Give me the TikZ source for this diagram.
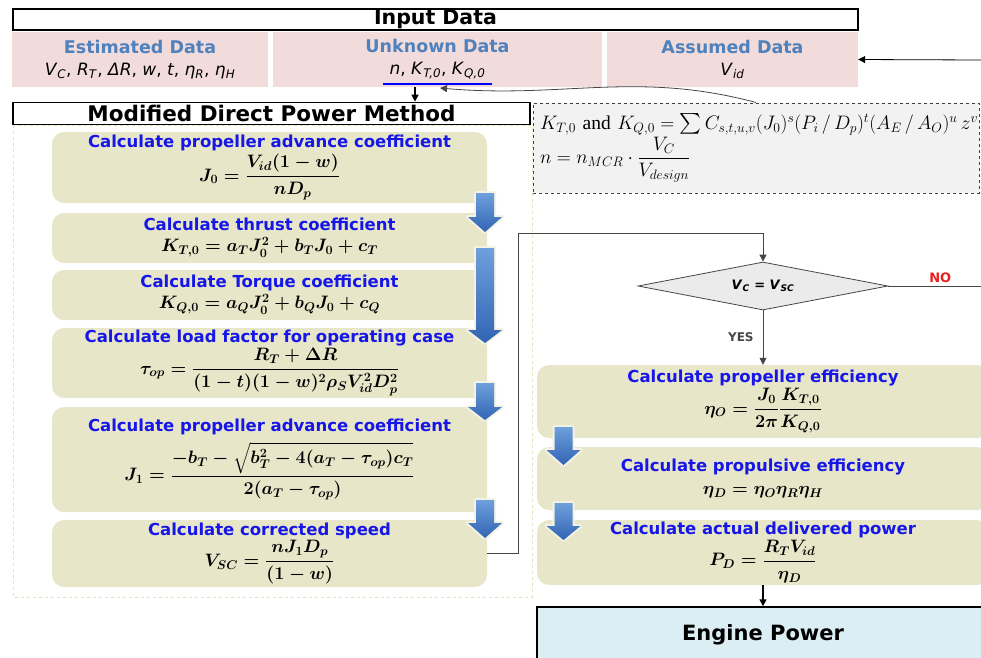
\RequirePackage{fix-cm}
\documentclass[tikz,border=0pt]{standalone}
\usepackage{amsmath}
\usepackage{fontspec}
\setmainfont{DejaVu Sans}
\newfontfamily\timesrm{Liberation Serif}
\usetikzlibrary{arrows.meta,shapes.geometric}
\definecolor{rose}{RGB}{242,220,219}
\definecolor{steel}{RGB}{79,129,189}
\definecolor{khaki}{RGB}{232,230,201}
\definecolor{calcblue}{RGB}{22,22,232}
\definecolor{arrhi}{RGB}{110,160,220}
\definecolor{arrlo}{RGB}{50,100,180}
\definecolor{lime}{RGB}{222,230,185}
\definecolor{wire}{RGB}{70,70,70}
\definecolor{sky}{RGB}{219,238,244}
\definecolor{nored}{RGB}{232,32,32}
\newcommand\ttl[1]{{\color{calcblue}\bfseries\fontsize{16.5}{19}\selectfont #1}}
\newcommand\celltitle[1]{{\color{steel}\bfseries\fontsize{17.5}{20}\selectfont #1}}
\newcommand\vv[2]{\textit{#1}\textsubscript{\textit{#2}}}
\tikzset{
  >={Triangle[length=7pt,width=7pt]},
  hdr/.style={draw=black,line width=1.8pt,fill=white,inner sep=0pt,
    font=\bfseries\fontsize{#1}{#1}\selectfont},
  cell/.style={fill=rose,inner sep=0pt,align=center,minimum height=55pt,
    font=\fontsize{17}{22}\selectfont},
  calc/.style={fill=khaki,rounded corners=12pt,inner sep=0pt,align=center,
    minimum width=435pt,font=\fontsize{18}{21}\selectfont\boldmath},
  wireline/.style={draw=wire,line width=0.8pt},
  % block arrow: #1 = head base, #2 = tip
  pics/dnarrow/.style 2 args={code={
    \path[preaction={draw=white!50!khaki,line width=4pt,line join=round},
      top color=arrhi,bottom color=arrlo]
      (-9,0) -- (9,0) -- (9,#1) -- (17,#1) -- (0,#2) -- (-17,#1) -- (-9,#1) -- cycle;
  }},
}
\begin{document}
\begin{tikzpicture}[x=1pt,y=-1pt]
  \useasboundingbox (0,0) rectangle (981,657);
  \clip (0,0) rectangle (981,657);
  % input data
  \node[hdr=20.5,minimum width=845pt,minimum height=21pt] (inp) at (435.5,19.5) {Input Data};
  \node[cell,minimum width=256pt] (est) at (140,59.5) {\celltitle{Estimated Data}\\ \vv{V}{C}, \vv{R}{T}, \textit{ΔR}, \textit{w}, \textit{t}, \vv{η}{R}, \vv{η}{H}};
  \node[cell,minimum width=329pt] (unk) at (437.5,59.5) {\celltitle{Unknown Data}\\ \textit{n}, \vv{K}{T,0}, \vv{K}{Q,0}};
  \node[cell,minimum width=251pt] (asm) at (732.5,59.5) {\celltitle{Assumed Data}\\ \vv{V}{id}};
  \coordinate (ulL) at (383,84);
  \coordinate (ulR) at (492,84);
  \draw[blue,line width=2pt] (ulL) -- (ulR);
  \coordinate (rin) at (981,60);
  \draw[->,line width=0.8pt] (rin) -- (asm.east);

  % modified direct power method
  \draw[lime,dashed,line width=1pt] (13,125) rectangle (532,597);
  \node[hdr=21.5,minimum width=517pt,minimum height=22pt] (mdpm) at (271.5,113.5) {Modified Direct Power Method};
  \coordinate (ulA) at (415,87);
  \draw[->,line width=1.5pt] (ulA) -- (ulA |- mdpm.north);

  \node[draw=black!75,dashed,line width=1pt,fill=black!5,minimum width=446pt,minimum height=90pt,
    inner xsep=7pt,text width=432pt,align=left,font=\timesrm\fontsize{19.5}{23}\selectfont] (frm) at (756,148)
    {\mbox{$K_{T,0}$ and $K_{Q,0}=\sum C_{s,t,u,v}(J_0)^s(P_i\,/\,D_p)^t(A_E\,/\,A_O)^u\,z^v$}\\[1pt]
     $n=n_{MCR}\cdot\dfrac{V_C}{V_{design}}$};
  \coordinate (ulB) at (440,88);
  \draw[->,wireline] (frm.north) to[out=165,in=-5] (ulB);

  \node[calc,minimum height=71pt] (b1) at (269.5,167.5) {\ttl{Calculate propeller advance coefficient}\\[2pt] $\displaystyle J_0=\frac{V_{id}(1-w)}{nD_p}$};
  \node[calc,minimum height=50pt] (b2) at (269.5,238) {\ttl{Calculate thrust coefficient}\\ $K_{T,0}=a_TJ_0^2+b_TJ_0+c_T$};
  \node[calc,minimum height=50pt] (b3) at (269.5,295) {\ttl{Calculate Torque coefficient}\\ $K_{Q,0}=a_QJ_0^2+b_QJ_0+c_Q$};
  \node[calc,minimum height=70pt] (b4) at (269.5,363) {\ttl{Calculate load factor for operating case}\\[1pt] $\displaystyle \tau_{op}=\frac{R_T+\Delta R}{(1-t)(1-w)^2\rho_SV_{id}^2D_p^2}$};
  \node[calc,minimum height=105pt] (b5) at (269.5,459.5) {\ttl{Calculate propeller advance coefficient}\\[6pt] $\displaystyle J_1=\frac{-b_T-\sqrt{b_T^2-4(a_T-\tau_{op})c_T}}{2(a_T-\tau_{op})}$};
  \node[calc,minimum height=67pt] (b6) at (269.5,553.5) {\ttl{Calculate corrected speed}\\[1pt] $\displaystyle V_{SC}=\frac{nJ_1D_p}{(1-w)}$};

  \pic at (485,193) {dnarrow={24}{39}};
  \pic at (485,248) {dnarrow={82}{95}};
  \pic at (485,383) {dnarrow={24}{37}};
  \pic at (485,500) {dnarrow={23}{38}};

  % check and result
  \node[diamond,draw=wire,fill=black!8,line width=0.8pt,minimum width=250pt,minimum height=48pt,
    inner sep=0pt,aspect=5,font=\bfseries\fontsize{13}{15}\selectfont] (dia) at (763,286)
    {\textit{V}\textsubscript{\textit{C}} = \textit{V}\textsubscript{\textit{SC}}};
  \coordinate (fb) at (518,233);
  \draw[->,wireline] (b6.east) -| (fb) -| (dia.north);

  \node[calc,minimum width=452pt,minimum height=73pt] (r1) at (763,401.5) {\ttl{Calculate propeller efficiency}\\[1pt] $\displaystyle \eta_O=\frac{J_0}{2\pi}\frac{K_{T,0}}{K_{Q,0}}$};
  \node[calc,minimum width=452pt,minimum height=63pt] (r2) at (763,478.5) {\ttl{Calculate propulsive efficiency}\\[2pt] $\eta_D=\eta_O\eta_R\eta_H$};
  \node[calc,minimum width=452pt,minimum height=65pt] (r3) at (763,552.5) {\ttl{Calculate actual delivered power}\\[1pt] $\displaystyle P_D=\frac{R_TV_{id}}{\eta_D}$};
  \node[draw=black,line width=1.5pt,fill=sky,minimum width=452pt,minimum height=56pt,
    font=\bfseries\fontsize{21}{24}\selectfont] (eng) at (763,635) {Engine Power};

  \pic at (563.5,427) {dnarrow={23}{38}};
  \pic at (563.5,503) {dnarrow={23}{37}};

  \draw[->,wireline] (dia.south) -- node[left,inner sep=9pt,font=\bfseries\fontsize{12}{14}\selectfont,text=wire] {YES} (r1.north);
  \coordinate (noEnd) at (981,286);
  \draw[wireline] (dia.east) -- node[above,pos=0.56,inner sep=3pt,font=\bfseries\fontsize{13}{15}\selectfont,text=nored] {NO} (noEnd);
  \draw[->,line width=1.5pt] (r3.south) -- (eng.north);
\end{tikzpicture}
\end{document}
